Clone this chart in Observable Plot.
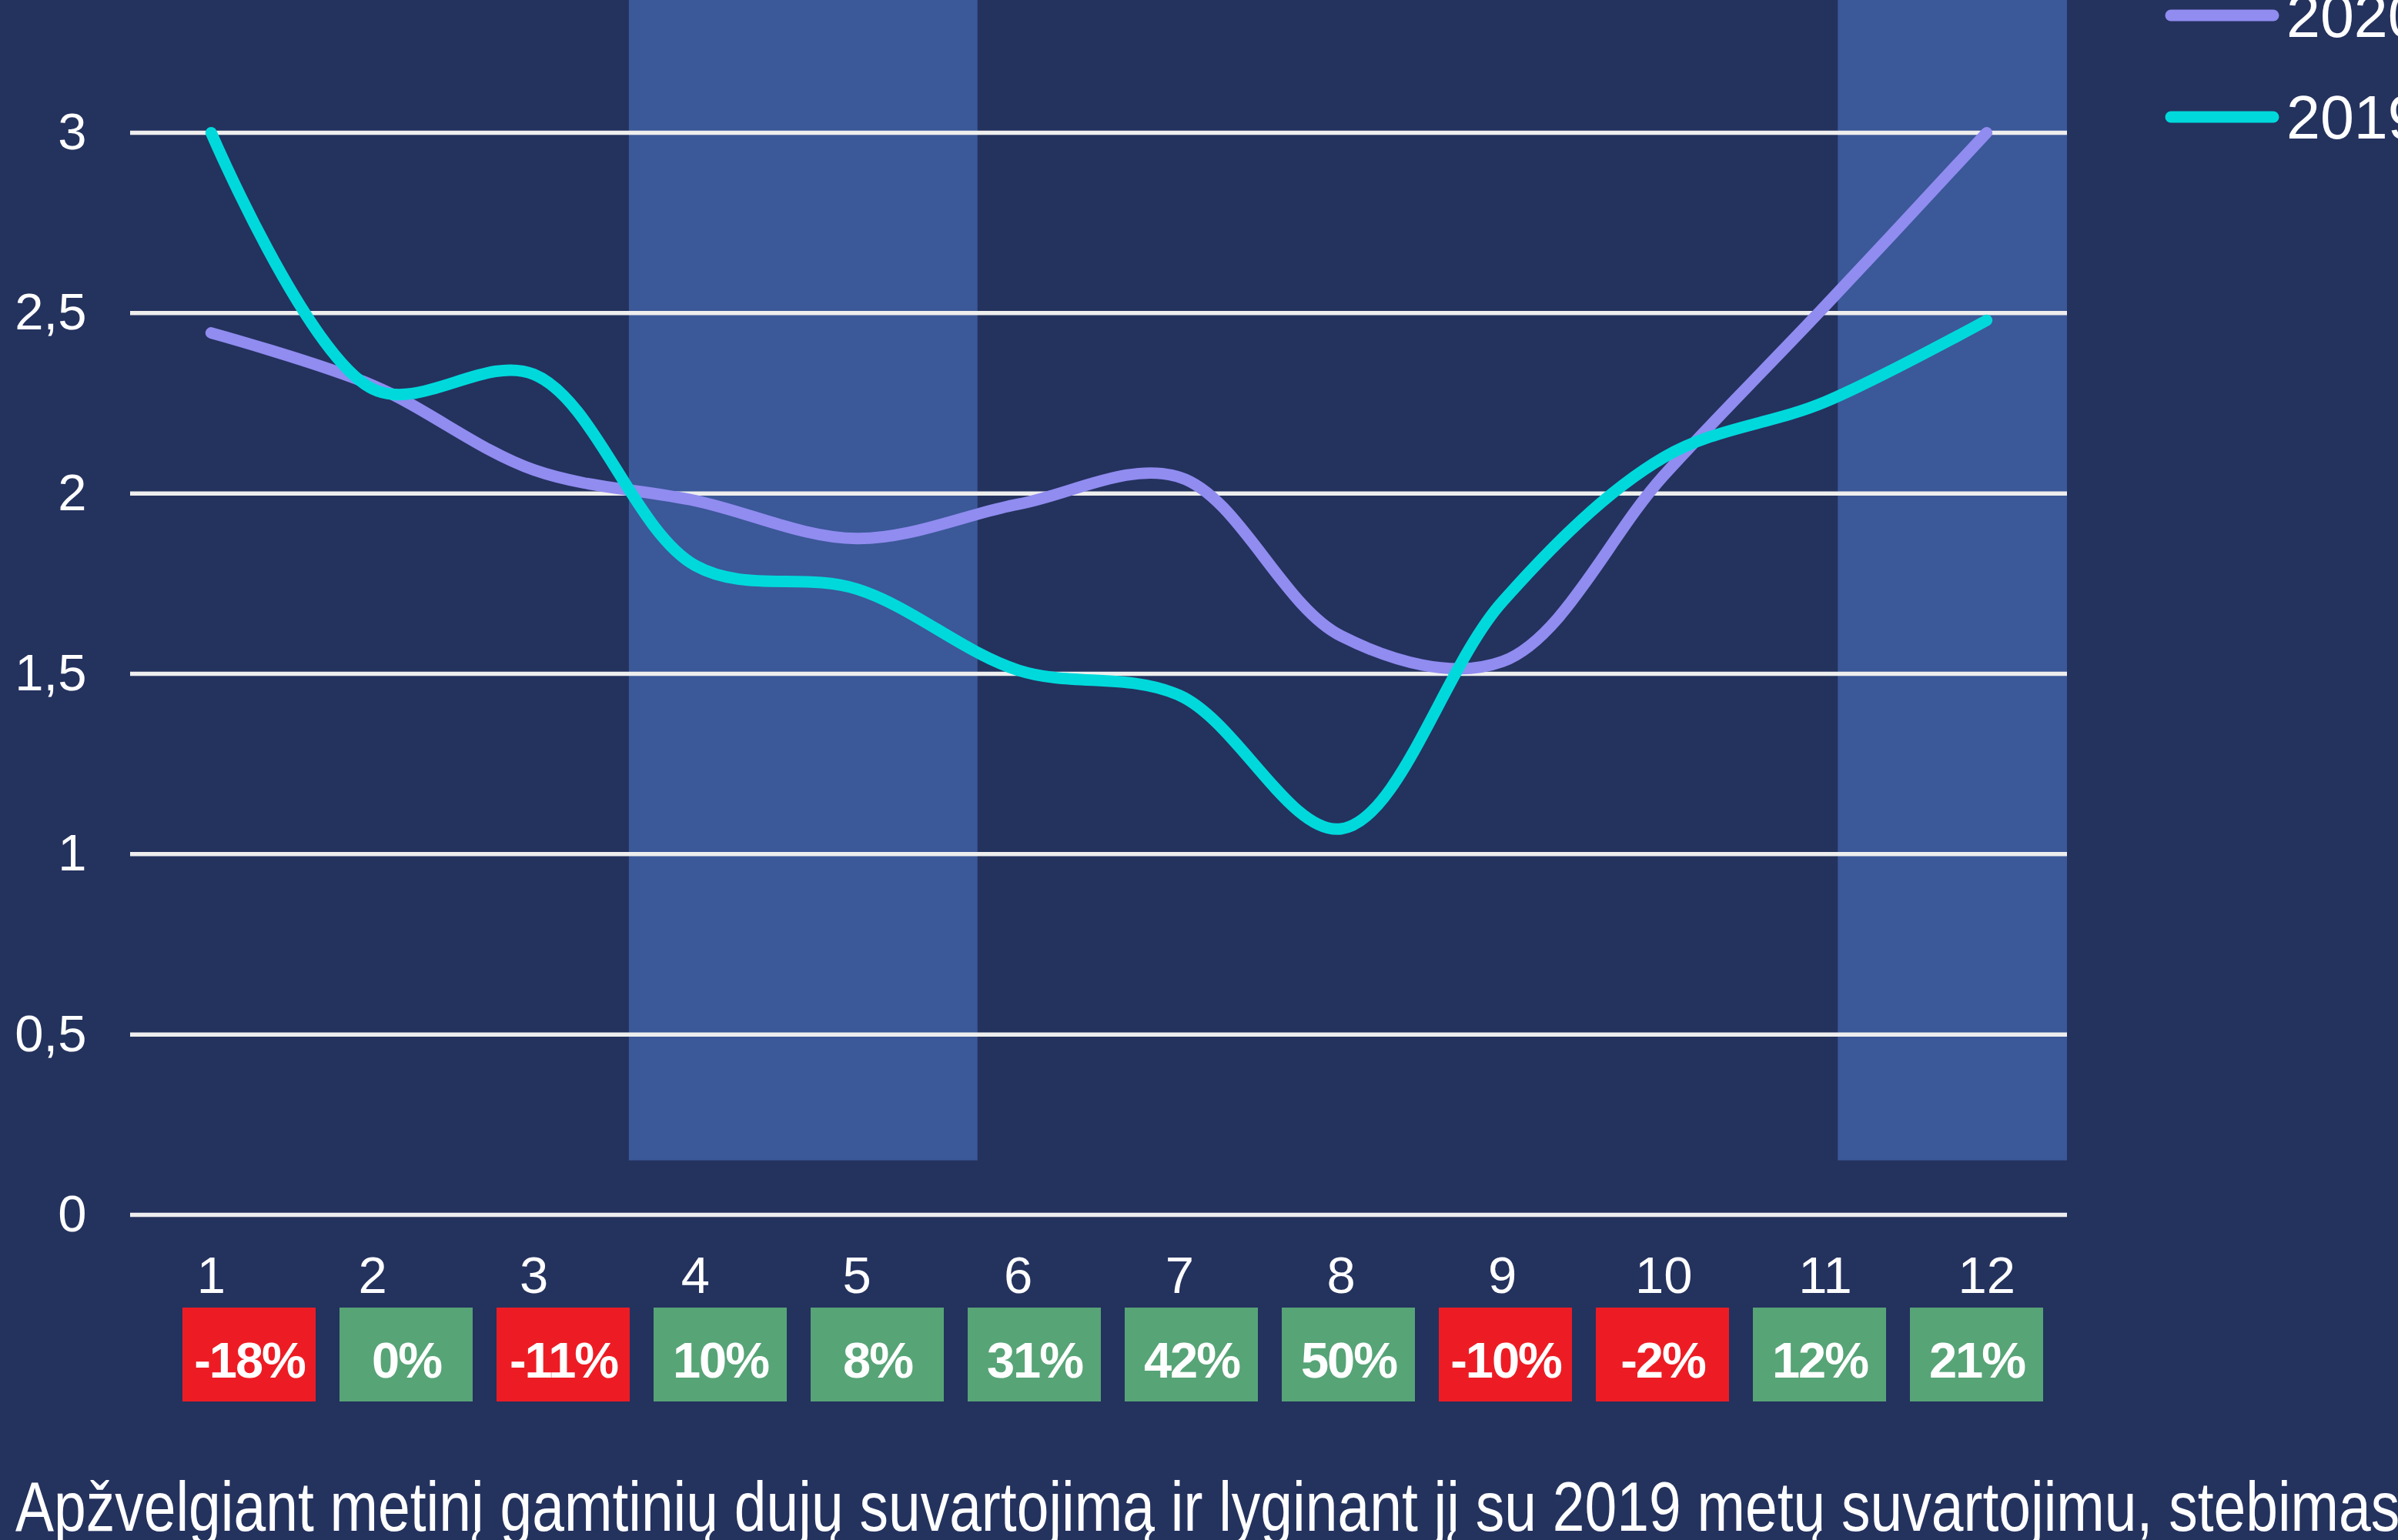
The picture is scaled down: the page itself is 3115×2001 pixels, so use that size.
<!DOCTYPE html>
<html>
<head>
<meta charset="utf-8">
<script src="https://cdn.jsdelivr.net/npm/d3@7"></script>
<script src="https://cdn.jsdelivr.net/npm/@observablehq/plot@0.6"></script>
<style>
  html, body { margin: 0; padding: 0; background: #24325E; overflow: hidden; }
  #wrap { position: relative; width: 3115px; height: 2001px; background: #24325E; overflow: hidden;
          font-family: "Liberation Sans", Arial, sans-serif; color: #fff; }
  #main, #badges, #legend, #caption { position: absolute; left: 0; }
  #main { top: 0; }
  #badges { top: 1699px; }
  #legend { top: 0; }
  #caption { top: 1926px; left: 20px; font-size: 75px; line-height: 75px; white-space: nowrap;
             transform: scaleY(1.2); transform-origin: 0 63.5px; }
</style>
</head>
<body>
<div id="wrap">
  <div id="main"></div>
  <div id="badges"></div>
  <div id="legend"></div>
  <div id="caption"></div>
</div>
<script>
// ---- data ----
const months = [1, 2, 3, 4, 5, 6, 7, 8, 9, 10, 11, 12];
const series2020 = [2.445, 2.30, 2.065, 1.98, 1.875, 1.97, 2.045, 1.605, 1.534, 2.05, 2.52, 3.0];
const series2019 = [3.0, 2.29, 2.33, 1.80, 1.735, 1.51, 1.44, 1.07, 1.70, 2.10, 2.254, 2.48];
const changeLabels = ["-18%", "0%", "-11%", "10%", "8%", "31%", "42%", "50%", "-10%", "-2%", "12%", "21%"];
const yTicks = [0, 0.5, 1, 1.5, 2, 2.5, 3];
const shadeStart = [3.59, 11.08];
const shadeEnd = [5.75, 12.5];
const shadeBase = 0.15;
const yTop = 3.367;
const legendLabels = ["2020", "2019"];
const captionText = "Apžvelgiant metinį gamtinių dujų suvartojimą ir lyginant jį su 2019 metų suvartojimu, stebimas";

// ---- colours ----
const C2020 = "#908CF0", C2019 = "#00D9DC", SHADE = "#3B5898", GRID = "#EEEEEE";
const RED = "#ED1C24", GREEN = "#57A477";
const FONT = "Liberation Sans, Arial, sans-serif";

const rows = months.map((m, i) => ({month: m, v2020: series2020[i], v2019: series2019[i], label: changeLabels[i]}));
const shades = shadeStart.map((s, i) => ({start: s, end: shadeEnd[i]}));

const main = Plot.plot({
  width: 3115,
  height: 1700,
  marginTop: 0,
  marginBottom: 122,
  marginLeft: 169,
  marginRight: 430,
  style: {background: "transparent", color: "#fff", fontFamily: FONT},
  x: {type: "linear", domain: [0.5, 12.5]},
  y: {domain: [0, yTop]},
  marks: [
    Plot.rect(shades, {x1: "start", x2: "end", y1: shadeBase, y2: yTop, fill: SHADE}),
    Plot.ruleY(yTicks, {stroke: GRID, strokeWidth: 5.5}),
    Plot.axisY({ticks: yTicks, tickSize: 0, tickPadding: 57, fontSize: 67, label: null,
                tickFormat: d => String(d).replace(".", ","), fill: "#fff"}),
    Plot.axisX({ticks: months, tickSize: 0, tickPadding: 54, fontSize: 67, label: null,
                tickFormat: d => String(d), fill: "#fff"}),
    Plot.line(rows, {x: "month", y: "v2020", stroke: C2020, strokeWidth: 15, strokeLinecap: "round",
                     strokeLinejoin: "round", curve: "catmull-rom"}),
    Plot.line(rows, {x: "month", y: "v2019", stroke: C2019, strokeWidth: 15, strokeLinecap: "round",
                     strokeLinejoin: "round", curve: "catmull-rom"})
  ]
});
document.getElementById("main").append(main);

const badges = Plot.plot({
  width: 3115,
  height: 122,
  marginTop: 0, marginBottom: 0,
  marginLeft: 218, marginRight: 443,
  style: {background: "transparent", fontFamily: FONT, letterSpacing: "-2px"},
  x: {type: "band", domain: months, paddingInner: 0.154, paddingOuter: 0.077, axis: null},
  color: {type: "identity"},
  marks: [
    Plot.cell(rows, {x: "month", fill: d => d.label.startsWith("-") ? RED : GREEN}),
    Plot.text(rows, {x: "month", text: "label", fill: "#fff", fontSize: 65, fontWeight: "bold",
                     frameAnchor: "middle", dy: 9})
  ]
});
document.getElementById("badges").append(badges);

// legend
const legendColors = [C2020, C2019];
const lsvg = d3.select("#legend").append("svg").attr("width", 3115).attr("height", 220);
legendLabels.forEach((lab, i) => {
  const cy = 20 + i * 132;
  lsvg.append("line").attr("x1", 2820).attr("x2", 2953).attr("y1", cy).attr("y2", cy)
    .attr("stroke", legendColors[i]).attr("stroke-width", 15).attr("stroke-linecap", "round");
  lsvg.append("text").attr("x", 2970).attr("y", cy + 28).attr("fill", "#fff")
    .attr("font-size", 79).attr("font-family", FONT).text(lab);
});

document.getElementById("caption").textContent = captionText;
</script>
</body>
</html>
